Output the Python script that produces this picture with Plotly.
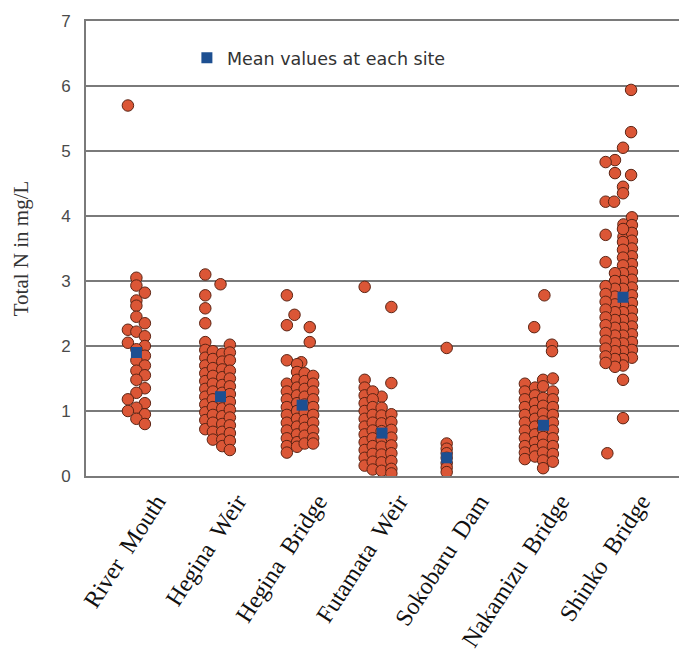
import plotly.graph_objects as go

# ---------------- data ----------------
SITES = ["River  Mouth", "Hegina  Weir", "Hegina  Bridge", "Futamata  Weir",
         "Sokobaru  Dam", "Nakamizu  Bridge", "Shinko  Bridge"]

# total N values (mg/L) per site, with the column (beeswarm lane) each dot sits in
river_mouth_vals = [5.70, 3.05, 2.93, 2.82, 2.70, 2.62, 2.45, 2.35, 2.25, 2.22, 2.15, 2.05,
                    2.00, 1.95, 1.85, 1.78, 1.70, 1.62, 1.55, 1.48, 1.35, 1.28, 1.18, 1.12,
                    1.05, 1.00, 0.95, 0.88, 0.80]
river_mouth_cols = [-1, 0, 0, 1, 0, 0, 0, 1, -1, 0, 1, -1,
                    1, 0, 1, 0, 1, 0, 1, 0, 1, 0, -1, 1,
                    0, -1, 1, 0, 1]

hegina_weir_vals = [3.10, 2.95, 2.78, 2.58, 2.35,
                    2.06, 1.94, 1.82, 1.70, 1.58, 1.46, 1.34, 1.22, 1.10, 0.98, 0.86, 0.72,
                    1.92, 1.80, 1.66, 1.54, 1.42, 1.30, 1.18, 1.06, 0.94, 0.82, 0.68, 0.56,
                    1.88, 1.76, 1.64, 1.52, 1.40, 1.28, 1.16, 1.04, 0.92, 0.80, 0.68, 0.56, 0.46,
                    2.02, 1.90, 1.78, 1.62, 1.50, 1.38, 1.26, 1.14, 1.02, 0.90, 0.78, 0.66, 0.54, 0.40]
hegina_weir_cols = [-1.4, 0.4, -1.4, -1.4, -1.4] + [-1.4] * 12 + [-0.5] * 12 + [0.6] * 13 + [1.5] * 14

hegina_bridge_vals = [2.78, 2.48, 2.32, 2.29, 2.06, 1.78, 1.75,
                      1.42, 1.30, 1.18, 1.06, 0.94, 0.82, 0.70, 0.58, 0.46, 0.36,
                      1.72, 1.60, 1.48, 1.36, 1.24, 1.12, 1.00, 0.88, 0.76, 0.64, 0.52, 0.45,
                      1.58, 1.46, 1.34, 1.22, 1.10, 0.98, 0.86, 0.74, 0.62, 0.50,
                      1.54, 1.42, 1.30, 1.18, 1.06, 0.94, 0.82, 0.70, 0.58, 0.50]
hegina_bridge_cols = [-1.3, -0.4, -1.3, 1.4, 1.4, -1.3, 0.4] + [-1.3] * 10 + [-0.1] * 12 + [0.8] * 10 + [1.8] * 10

futamata_vals = [2.91, 2.60, 1.43, 1.22,
                 1.48, 1.36, 1.24, 1.12, 1.00, 0.88, 0.76, 0.64, 0.52, 0.40, 0.28, 0.16,
                 1.30, 1.18, 1.06, 0.94, 0.82, 0.70, 0.58, 0.46, 0.34, 0.22, 0.10,
                 1.05, 0.93, 0.81, 0.69, 0.57, 0.45, 0.33, 0.21, 0.08,
                 0.95, 0.83, 0.71, 0.59, 0.47, 0.35, 0.23, 0.11, 0.04]
futamata_cols = [-1.65, 1.5, 1.5, 0.35] + [-1.65] * 12 + [-0.7] * 11 + [0.35] * 9 + [1.5] * 9

sokobaru_vals = [1.97, 0.50, 0.42, 0.35, 0.28, 0.20, 0.13, 0.06]
sokobaru_cols = [-1.5] * 8

nakamizu_vals = [2.78, 2.29, 2.02, 1.92,
                 1.42, 1.30, 1.18, 1.06, 0.94, 0.82, 0.70, 0.58, 0.46, 0.36, 0.26,
                 1.36, 1.24, 1.12, 1.00, 0.88, 0.76, 0.64, 0.52, 0.40, 0.30,
                 1.48, 1.38, 1.20, 1.08, 0.96, 0.84, 0.72, 0.60, 0.48, 0.36, 0.24, 0.12,
                 1.50, 1.30, 1.18, 1.06, 0.94, 0.82, 0.70, 0.58, 0.46, 0.34, 0.22]
nakamizu_cols = [0.5, -0.7, 1.4, 1.4] + [-1.8] * 11 + [-0.6] * 10 + [0.35] * 12 + [1.5] * 11

shinko_vals = [5.94, 5.29, 5.05, 4.86, 4.83, 4.66, 4.63, 4.45, 4.35, 4.22, 4.22, 3.98, 3.87,
               3.71, 3.68, 3.29,
               3.86, 3.74, 3.62, 3.50, 3.38, 3.26, 3.14, 3.02, 2.90, 2.78, 2.66, 2.54, 2.42,
               2.30, 2.18, 2.06, 1.94, 1.82,
               3.80, 3.60, 3.48, 3.36, 3.24, 3.12, 3.00, 2.88, 2.64, 2.52, 2.40, 2.28, 2.16,
               2.04, 1.92, 1.80, 1.70,
               3.12, 3.00, 2.88, 2.76, 2.64, 2.52, 2.40, 2.28, 2.16, 2.04, 1.92, 1.80, 1.68,
               2.92, 2.80, 2.68, 2.56, 2.44, 2.32, 2.20, 2.08, 1.96, 1.84, 1.74,
               1.48, 0.89, 0.35]
shinko_cols = [1.2, 1.2, 0.25, -0.7, -1.8, -0.7, 1.2, 0.25, 0.25, -1.8, -0.8, 1.3, 0.3,
               -1.8, 0.3, -1.8] + [1.3] * 18 + [0.25] * 17 + [-0.7] * 13 + [-1.8] * 11 + [0.25, 0.25, -1.6]

SITE_VALUES = [river_mouth_vals, hegina_weir_vals, hegina_bridge_vals, futamata_vals,
               sokobaru_vals, nakamizu_vals, shinko_vals]
SITE_COLS = [river_mouth_cols, hegina_weir_cols, hegina_bridge_cols, futamata_cols,
             sokobaru_cols, nakamizu_cols, shinko_cols]

MEAN_VALUES = [1.90, 1.22, 1.09, 0.66, 0.28, 0.78, 2.75]
MEAN_COLS = [0, 0.4, 0.5, 0.4, -1.5, 0.4, 0.25]

Y_TICKS = [0, 1, 2, 3, 4, 5, 6, 7]

# ---------------- styling ----------------
COL_STEP = 0.105
LABEL_SHIFT = 0.25
DOT_FILL = "#DB5636"
DOT_LINE = "#5C2414"
MEAN_COLOR = "#1D4F91"
GRID = "#7a7a7a"

xs, ys = [], []
for i, (vals, cols) in enumerate(zip(SITE_VALUES, SITE_COLS)):
    for v, c in zip(vals, cols):
        xs.append(i + c * COL_STEP)
        ys.append(v)

mx = [i + c * COL_STEP for i, c in enumerate(MEAN_COLS)]

fig = go.Figure()
fig.add_trace(go.Scatter(
    x=xs, y=ys, mode="markers", showlegend=False, hoverinfo="y",
    marker=dict(symbol="circle", size=11.5, color=DOT_FILL,
                line=dict(color=DOT_LINE, width=1)),
))
fig.add_trace(go.Scatter(
    x=mx, y=MEAN_VALUES, mode="markers", name="Mean values at each site",
    marker=dict(symbol="square", size=11, color=MEAN_COLOR,
                line=dict(color=MEAN_COLOR, width=0)),
))

fig.update_layout(
    width=679, height=649,
    margin=dict(l=78, r=4, t=13, b=181, autoexpand=False),
    paper_bgcolor="white", plot_bgcolor="white",
    showlegend=True,
    legend=dict(x=0.169, y=0.919, xanchor="left", yanchor="middle",
                bgcolor="rgba(0,0,0,0)",
                font=dict(family="DejaVu Sans", size=17.5, color="#333333")),
    xaxis=dict(
        range=[-0.624, 6.769],
        tickmode="array",
        tickvals=[i + LABEL_SHIFT for i in range(len(SITES))],
        ticktext=SITES,
        tickangle=-57,
        tickfont=dict(family="Liberation Serif", size=24, color="#111111"),
        showgrid=False, zeroline=False,
        showline=True, mirror=True, linecolor=GRID, linewidth=2,
        ticks="", ticklabelstandoff=0, automargin=False,
    ),
    yaxis=dict(
        range=[0, 7],
        tickmode="array", tickvals=Y_TICKS,
        tickfont=dict(family="Liberation Sans", size=17, color="#4a4a4a"),
        showgrid=True, gridcolor=GRID, gridwidth=2,
        zeroline=False,
        showline=True, linecolor=GRID, linewidth=2,
        ticks="", ticklabelstandoff=10, automargin=False,
        title=dict(text="Total N in mg/L",
                   font=dict(family="Liberation Serif", size=21, color="#333333"),
                   standoff=27),
    ),
)

fig.write_html("out.html")
